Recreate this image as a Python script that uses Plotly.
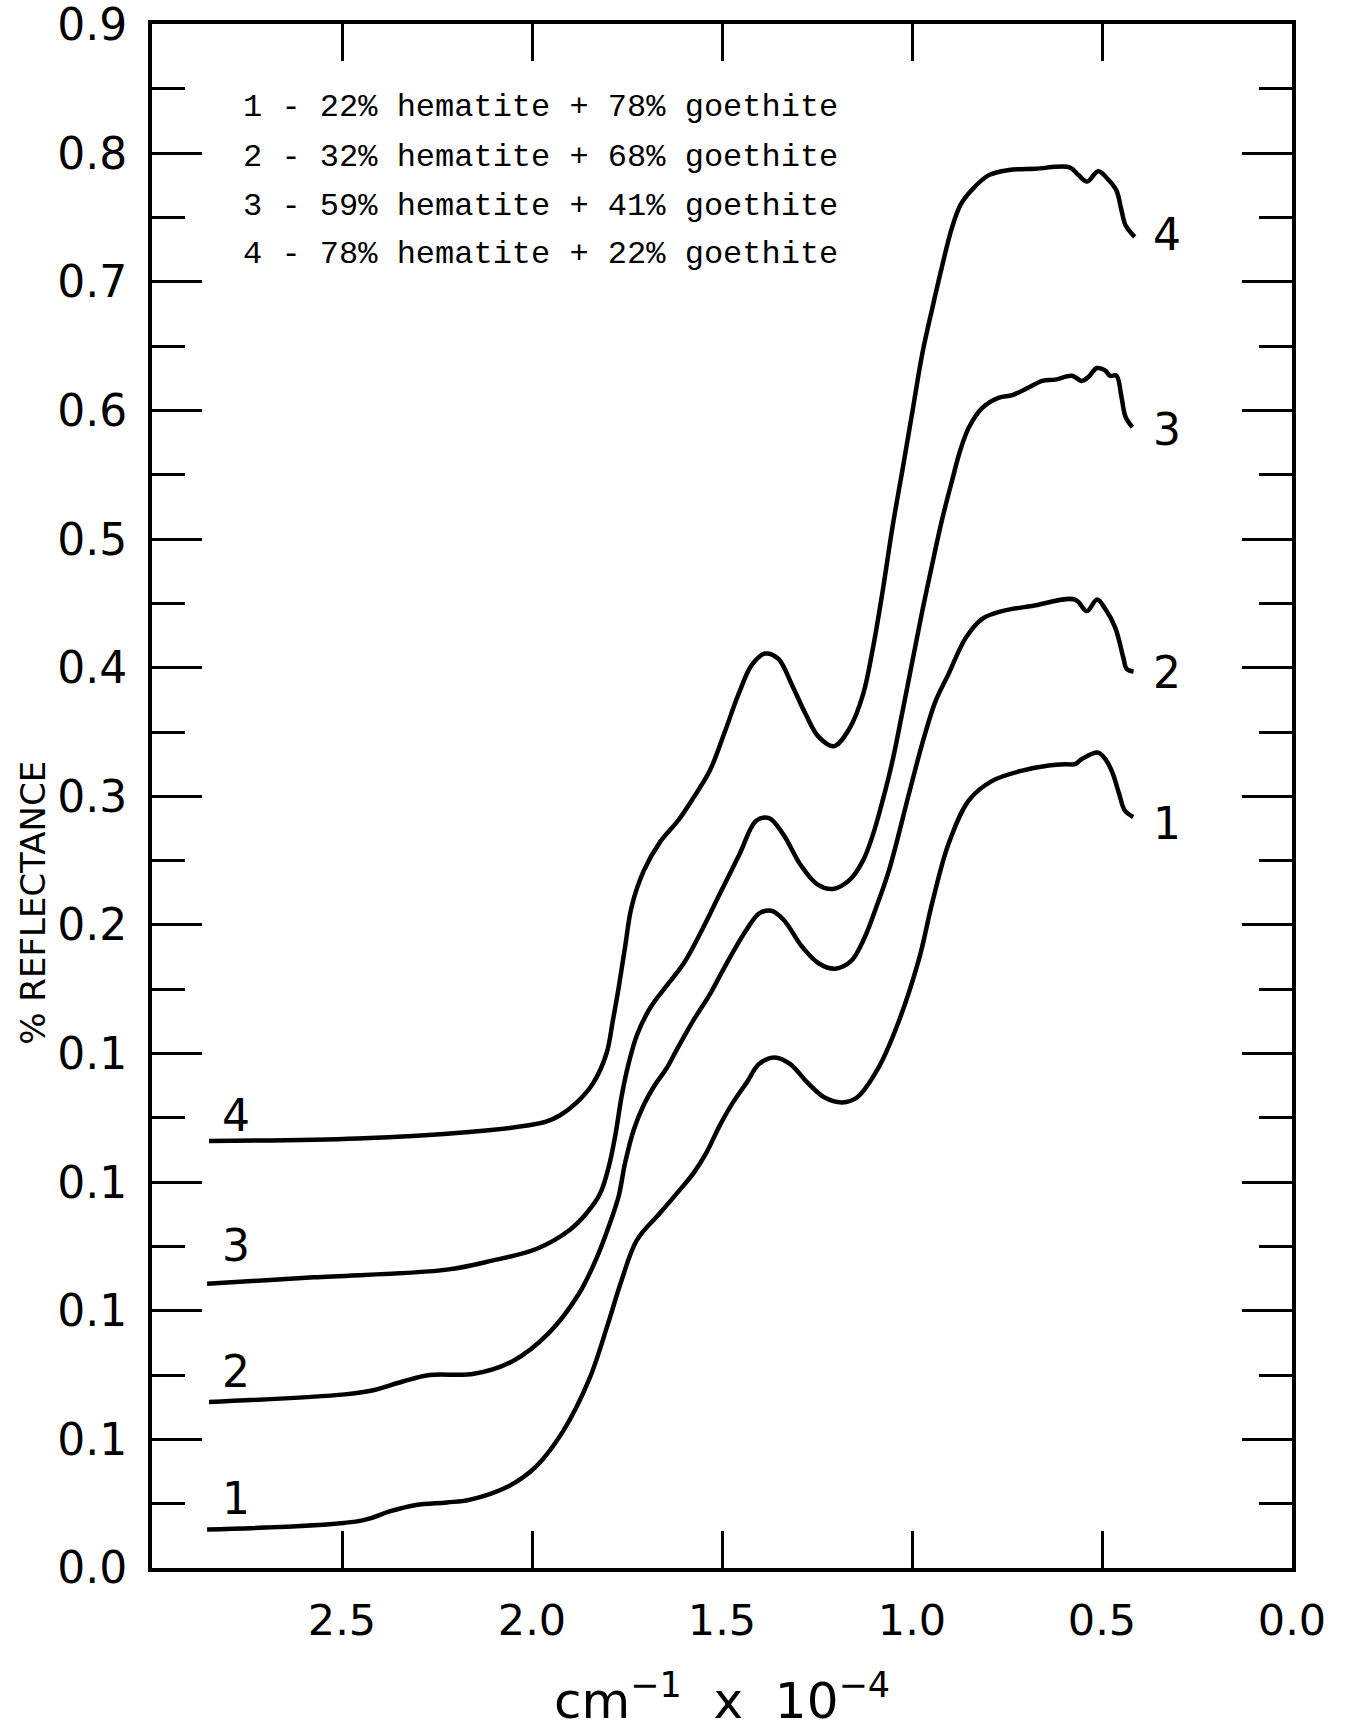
import plotly.graph_objects as go

# ---- data: wavenumber (cm^-1 x 10^-4) and plotted reflectance (curves offset on the chart) ----
c4_x = [2.850, 2.459, 2.166, 2.013, 1.963, 1.926, 1.882, 1.839, 1.804, 1.787, 1.772, 1.755, 1.738,
        1.706, 1.662, 1.616, 1.575, 1.532, 1.494, 1.457, 1.422, 1.387, 1.352, 1.315, 1.280, 1.245,
        1.205, 1.164, 1.129, 1.103, 1.077, 1.051, 1.025, 0.999, 0.973, 0.947, 0.921, 0.895, 0.872,
        0.841, 0.798, 0.745, 0.675, 0.585, 0.562, 0.539, 0.510, 0.485, 0.462, 0.449, 0.438, 0.414]
c4_y = [0.332, 0.334, 0.339, 0.344, 0.347, 0.352, 0.362, 0.377, 0.400, 0.426, 0.451, 0.483, 0.514,
        0.542, 0.565, 0.581, 0.599, 0.620, 0.649, 0.679, 0.702, 0.711, 0.707, 0.686, 0.664, 0.646,
        0.639, 0.653, 0.679, 0.715, 0.760, 0.810, 0.854, 0.899, 0.944, 0.979, 1.012, 1.042, 1.060,
        1.072, 1.083, 1.087, 1.088, 1.089, 1.083, 1.078, 1.086, 1.080, 1.071, 1.056, 1.044, 1.035]

c3_x = [2.855, 2.574, 2.224, 2.105, 1.989, 1.900, 1.856, 1.821, 1.798, 1.781, 1.764, 1.746, 1.723,
        1.688, 1.645, 1.601, 1.558, 1.506, 1.454, 1.410, 1.376, 1.338, 1.294, 1.251, 1.208, 1.164,
        1.129, 1.103, 1.077, 1.051, 1.025, 0.999, 0.973, 0.950, 0.921, 0.895, 0.872, 0.850, 0.815,
        0.771, 0.736, 0.692, 0.657, 0.623, 0.579, 0.553, 0.536, 0.513, 0.491, 0.479, 0.462, 0.449,
        0.438, 0.420]
c3_y = [0.221, 0.226, 0.232, 0.239, 0.248, 0.263, 0.276, 0.291, 0.312, 0.336, 0.367, 0.392, 0.415,
        0.436, 0.453, 0.470, 0.493, 0.524, 0.555, 0.581, 0.583, 0.570, 0.547, 0.532, 0.528, 0.535,
        0.550, 0.570, 0.597, 0.628, 0.666, 0.705, 0.744, 0.776, 0.815, 0.845, 0.870, 0.887, 0.902,
        0.910, 0.912, 0.918, 0.923, 0.924, 0.927, 0.923, 0.926, 0.933, 0.931, 0.927, 0.927, 0.911,
        0.895, 0.887]

c2_x = [2.850, 2.493, 2.421, 2.340, 2.270, 2.153, 2.050, 1.958, 1.877, 1.830, 1.795, 1.772, 1.755,
        1.732, 1.706, 1.680, 1.645, 1.619, 1.575, 1.532, 1.488, 1.436, 1.402, 1.370, 1.338, 1.289,
        1.245, 1.202, 1.160, 1.125, 1.095, 1.060, 1.008, 0.973, 0.938, 0.904, 0.859, 0.815, 0.763,
        0.684, 0.571, 0.540, 0.513, 0.492, 0.465, 0.444, 0.435, 0.417]
c2_y = [0.129, 0.135, 0.138, 0.145, 0.150, 0.151, 0.161, 0.182, 0.213, 0.241, 0.268, 0.289, 0.315,
        0.341, 0.360, 0.374, 0.389, 0.403, 0.426, 0.446, 0.470, 0.496, 0.509, 0.511, 0.504, 0.483,
        0.470, 0.466, 0.472, 0.490, 0.513, 0.543, 0.602, 0.641, 0.674, 0.695, 0.723, 0.738, 0.744,
        0.748, 0.753, 0.744, 0.753, 0.746, 0.731, 0.708, 0.699, 0.697]

c1_x = [2.855, 2.446, 2.375, 2.305, 2.224, 2.165, 2.059, 1.989, 1.919, 1.849, 1.801, 1.764, 1.724,
        1.663, 1.611, 1.575, 1.541, 1.506, 1.471, 1.436, 1.402, 1.361, 1.321, 1.277, 1.231, 1.184,
        1.144, 1.090, 1.040, 0.982, 0.947, 0.904, 0.850, 0.789, 0.710, 0.640, 0.597, 0.571, 0.553,
        0.510, 0.489, 0.472, 0.455, 0.440, 0.418]
c1_y = [0.030, 0.037, 0.044, 0.049, 0.051, 0.053, 0.064, 0.079, 0.106, 0.147, 0.189, 0.224, 0.255,
        0.276, 0.294, 0.307, 0.323, 0.344, 0.362, 0.377, 0.392, 0.397, 0.392, 0.378, 0.366, 0.362,
        0.366, 0.388, 0.421, 0.473, 0.517, 0.563, 0.597, 0.612, 0.620, 0.624, 0.625, 0.625, 0.629,
        0.634, 0.628, 0.618, 0.602, 0.589, 0.584]

curve_names = ["1", "2", "3", "4"]
legend_lines = [
    "1 - 22% hematite + 78% goethite",
    "2 - 32% hematite + 68% goethite",
    "3 - 59% hematite + 41% goethite",
    "4 - 78% hematite + 22% goethite",
]

y_tickvals = [0.0, 0.1, 0.2, 0.3, 0.4, 0.5, 0.6, 0.7, 0.8, 0.9, 1.0, 1.1, 1.2]
y_ticktext = ["0.0", "0.1", "0.1", "0.1", "0.1", "0.2", "0.3", "0.4", "0.5", "0.6", "0.7", "0.8", "0.9"]
x_tickvals = [2.5, 2.0, 1.5, 1.0, 0.5, 0.0]
x_ticktext = ["2.5", "2.0", "1.5", "1.0", "0.5", "0.0"]

# anchor points (data coords) of the curve numbers
right_label_x = 0.33
right_label_y = [0.579, 0.696, 0.885, 1.037]
left_label_x = 2.78
left_label_y = [0.054, 0.153, 0.251, 0.352]

fig = go.Figure()
for xs, ys, nm in [(c1_x, c1_y, "1"), (c2_x, c2_y, "2"), (c3_x, c3_y, "3"), (c4_x, c4_y, "4")]:
    fig.add_trace(go.Scatter(x=xs, y=ys, mode="lines", name=nm,
                             line=dict(color="black", width=4.5, shape="spline", smoothing=1.0),
                             showlegend=False, hoverinfo="skip"))

ann = []
num_font = dict(family="DejaVu Sans", size=44, color="black")
for i, nm in enumerate(curve_names):
    ann.append(dict(x=right_label_x, y=right_label_y[i], text=nm, showarrow=False,
                    xref="x", yref="y", font=num_font, xanchor="center", yanchor="middle"))
    ann.append(dict(x=left_label_x, y=left_label_y[i], text=nm, showarrow=False,
                    xref="x", yref="y", font=num_font, xanchor="center", yanchor="middle"))

legend_y = [0.9456, 0.9133, 0.8816, 0.8505]
for i, t in enumerate(legend_lines):
    ann.append(dict(x=0.0778, y=legend_y[i], xref="paper", yref="paper", text=t, showarrow=False,
                    xanchor="left", yanchor="middle",
                    font=dict(family="Liberation Mono", size=32, color="black")))

ann.append(dict(x=-0.105, y=0.431, xref="paper", yref="paper", text="% REFLECTANCE",
                textangle=-90, showarrow=False, xanchor="center", yanchor="middle",
                font=dict(family="DejaVu Sans", size=34, color="black")))

fig.update_layout(
    width=1346, height=1731,
    margin=dict(l=152, r=54, t=24, b=163, autoexpand=False),
    paper_bgcolor="white", plot_bgcolor="white",
    annotations=ann,
    font=dict(family="DejaVu Sans", color="black"),
)
fig.update_xaxes(range=[3.0, 0.0], tickmode="array", tickvals=x_tickvals, ticktext=x_ticktext,
                 ticks="inside", ticklen=37, tickwidth=3, tickcolor="black",
                 showline=True, linewidth=4, linecolor="black", mirror="ticks",
                 showgrid=False, zeroline=False, automargin=False,
                 tickfont=dict(family="DejaVu Sans", size=43, color="black"),
                 ticklabelstandoff=11, ticklabeloverflow="allow",
                 title=dict(text="cm<sup>−1</sup>  x  10<sup>−4</sup>", standoff=40,
                            font=dict(family="DejaVu Sans", size=50, color="black")))
fig.update_yaxes(range=[0.0, 1.2005], tickmode="array", tickvals=y_tickvals, ticktext=y_ticktext,
                 ticks="inside", ticklen=50, tickwidth=3, tickcolor="black",
                 minor=dict(ticks="inside", ticklen=33, tickwidth=3, tickcolor="black",
                            tick0=0.05, dtick=0.1, showgrid=False),
                 showline=True, linewidth=4, linecolor="black", mirror="ticks",
                 showgrid=False, zeroline=False, automargin=False,
                 tickfont=dict(family="DejaVu Sans", size=44, color="black"),
                 ticklabelstandoff=12, ticklabeloverflow="allow")

fig.write_html("out.html")
